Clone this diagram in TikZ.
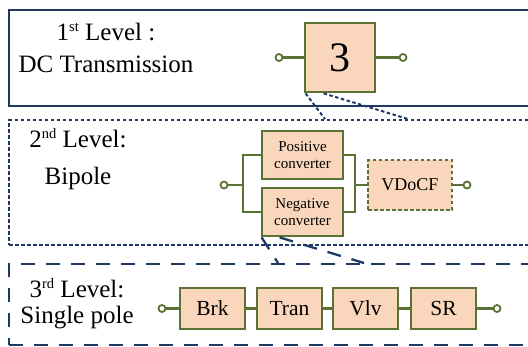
\documentclass[tikz,border=0pt]{standalone}
\usepackage{fontspec}
\setmainfont{Liberation Serif}
\usetikzlibrary{calc}
\definecolor{navy}{HTML}{203864}
\definecolor{olive}{HTML}{5A7233}
\definecolor{peach}{HTML}{FAD7BC}
\newcommand{\supx}[1]{\raisebox{9pt}{\fontsize{14.5}{14.5}\selectfont #1}}
\tikzset{
  frameA/.style={draw=navy, line width=2.3pt},
  frameB/.style={draw=navy, line width=2pt, dash pattern=on 3.5pt off 2.5pt},
  frameC/.style={draw=navy, line width=2.3pt, dash pattern=on 14pt off 11pt},
  blk/.style={draw=olive, fill=peach, line width=2.8pt, inner sep=0pt, align=center},
  term/.style={circle, draw=olive, fill=white, line width=1.8pt, minimum size=7pt, inner sep=0pt},
  wire/.style={draw=olive, line width=2.2pt},
  zoomA/.style={draw=navy, line width=2pt, dash pattern=on 3.5pt off 2.5pt},
  zoomB/.style={draw=navy, line width=2.3pt, dash pattern=on 14pt off 11pt},
  lvl/.style={anchor=base, inner sep=0pt, font=\fontsize{25}{30}\selectfont},
}
\begin{document}
\begin{tikzpicture}[x=1pt, y=-1pt]
\useasboundingbox (0,0) rectangle (528,346);
\clip (0,0) rectangle (528,346);
% frames
\node[frameA, minimum width=560pt, minimum height=96pt, anchor=north west, inner sep=0pt] (f1) at (8,9) {};
\node[frameB, minimum width=560pt, minimum height=125pt, anchor=north west, inner sep=0pt] (f2) at (8,119) {};
\node[frameC, minimum width=560pt, minimum height=81pt, anchor=north west, inner sep=0pt] (f3) at (8,263) {};
% level texts
\node[lvl] (t1a) at (106,40) {1\supx{st} Level :};
\node[lvl] (t1b) at (106,72) {DC Transmission};
\node[lvl] (t2a) at (78,147) {2\supx{nd} Level:};
\node[lvl] (t2b) at (78,184) {Bipole};
\node[lvl] (t3a) at (77,297) {3\supx{rd} Level:};
\node[lvl] (t3b) at (77,323) {Single pole};
% level 1
\node[blk, minimum width=70pt, minimum height=69pt, font=\fontsize{42}{42}\selectfont] (b3) at (340,57.5) {3};
\node[term] (c1l) at (279,57.5) {};
\node[term] (c1r) at (403,57.5) {};
\draw[wire] (c1l) -- (b3.west);
\draw[wire] (b3.east) -- (c1r);
% level 2
\node[blk, minimum width=81pt, minimum height=48pt, font=\fontsize{15}{17}\selectfont] (pos) at (302.5,155) {Positive\\converter};
\node[blk, minimum width=81pt, minimum height=48pt, font=\fontsize{15}{17}\selectfont] (neg) at (302.5,212) {Negative\\converter};
\node[blk, dash pattern=on 3.5pt off 2.5pt, minimum width=84pt, minimum height=50pt, font=\fontsize{18}{18}\selectfont] (vdc) at (410,185) {VDoCF};
\node[term] (c2l) at (224,185) {};
\node[term] (c2r) at (467,185) {};
\coordinate (jl) at (243,185);
\coordinate (jr) at (355,185);
\draw[wire] (c2l) -- (jl);
\draw[wire] (pos.west) -| (jl) |- (neg.west);
\draw[wire] (pos.east) -| (jr) |- (neg.east);
\draw[wire] (jr) -- (vdc.west);
\draw[wire] (vdc.east) -- (c2r);
% level 3
\node[blk, minimum width=65pt, minimum height=41pt, font=\fontsize{21.5}{22}\selectfont] (brk) at (212.5,308.5) {Brk};
\node[blk, minimum width=65pt, minimum height=41pt, font=\fontsize{21.5}{22}\selectfont] (tran) at (289.5,308.5) {Tran};
\node[blk, minimum width=65pt, minimum height=41pt, font=\fontsize{21.5}{22}\selectfont] (vlv) at (365.5,308.5) {Vlv};
\node[blk, minimum width=65pt, minimum height=41pt, font=\fontsize{21.5}{22}\selectfont] (sr) at (443.5,308.5) {SR};
\node[term] (c3l) at (162,308.5) {};
\node[term] (c3r) at (497,308.5) {};
\draw[wire] (c3l) -- (brk) -- (tran) -- (vlv) -- (sr) -- (c3r);
% zoom connectors level 1 -> 2
\coordinate (z1a) at ($(b3.south west)+(2,0)$);
\coordinate (z1b) at ($(b3.south west)+(20,0)$);
\coordinate (z2a) at (325,119);
\coordinate (z2b) at (408,119);
\draw[zoomA] (z1a) -- (z2a);
\draw[zoomA] (z1b) -- (z2b);
% zoom connectors level 2 -> 3
\coordinate (y1a) at ($(neg.south west)+(1,0)$);
\coordinate (y1b) at ($(neg.south west)+(19,0)$);
\coordinate (y2a) at (278,263);
\coordinate (y2b) at (364,263);
\draw[zoomB] (y1a) -- (y2a);
\draw[zoomB] (y1b) -- (y2b);
\end{tikzpicture}
\end{document}
